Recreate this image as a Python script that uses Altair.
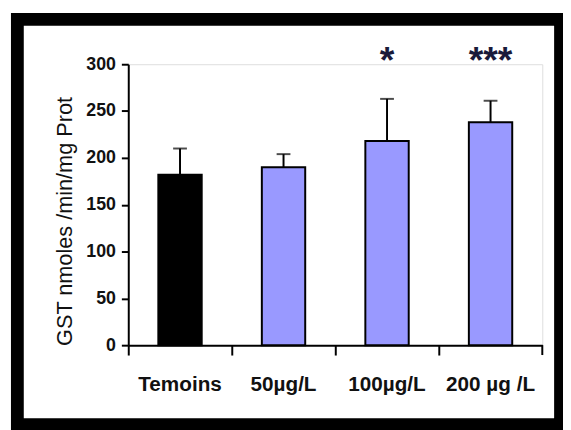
import altair as alt
import pandas as pd

groups = ["Temoins", "50µg/L", "100µg/L", "200 µg /L"]
means = [182, 190, 218, 238]
upper = [210, 204, 263, 261]
stars = ["", "", "*", "***"]
colors = ["#000000", "#9999ff", "#9999ff", "#9999ff"]

FONT = "Liberation Sans, Arial, sans-serif"

df = pd.DataFrame({"group": groups, "mean": means, "upper": upper, "star": stars, "color": colors})

W, H = 420, 285

x = alt.X("group:N", sort=groups, title=None,
          scale=alt.Scale(paddingInner=0, paddingOuter=0),
          axis=alt.Axis(bandPosition=0, labelAngle=0, labelFont=FONT, labelFontSize=21,
                        labelFontWeight="bold", labelColor="#111111", labelPadding=19,
                        tickSize=10, tickWidth=2, tickColor="black",
                        domainWidth=2, domainColor="black", labelBound=False))
y = alt.Y("mean:Q", title="GST nmoles /min/mg Prot",
          scale=alt.Scale(domain=[0, 300], nice=False),
          axis=alt.Axis(values=[0, 50, 100, 150, 200, 250, 300], grid=False,
                        labelFont=FONT, labelFontSize=18, labelFontWeight="bold",
                        labelColor="#111111", labelPadding=6,
                        tickSize=7, tickWidth=2, tickColor="black",
                        domainWidth=2, domainColor="black",
                        titleFont=FONT, titleFontSize=22, titleFontWeight="normal",
                        titleColor="#111111", titleAngle=270, titleX=-65, titleY=159,
                        titleAlign="center", titleBaseline="middle"))

base = alt.Chart(df)

bars = base.mark_bar(size=44, stroke="black", strokeWidth=2).encode(
    x=x, y=y, color=alt.Color("color:N", scale=None))
rules = base.mark_rule(strokeWidth=2, color="black").encode(
    x=alt.X("group:N", sort=groups), y="mean:Q", y2="upper:Q")
caps = base.mark_tick(size=14, thickness=2, color="black").encode(
    x=alt.X("group:N", sort=groups), y="upper:Q")
star_text = base.mark_text(font=FONT, fontSize=38, fontWeight="bold", color="#1a1a3a",
                           baseline="alphabetic").encode(
    x=alt.X("group:N", sort=groups), y=alt.value(9), text="star:N")

one = alt.Chart(pd.DataFrame({"k": [0]}))
end_tick = one.mark_rule(strokeWidth=2, color="black").encode(
    x=alt.value(W), y=alt.value(H), y2=alt.value(H + 10))
frame = one.mark_rect(filled=False, stroke="black", strokeWidth=13).encode(
    x=alt.value(-112.5), x2=alt.value(438.5), y=alt.value(-45.5), y2=alt.value(365.5))

chart = alt.layer(bars, rules, caps, star_text, end_tick, frame).properties(
    width=W, height=H,
    autosize=alt.AutoSizeParams(type="none"),
    padding={"left": 122, "top": 54, "right": 21, "bottom": 83},
).configure_view(stroke=None).configure(background="white")

chart.save("out.html", embed_options={"renderer": "svg", "actions": False})
